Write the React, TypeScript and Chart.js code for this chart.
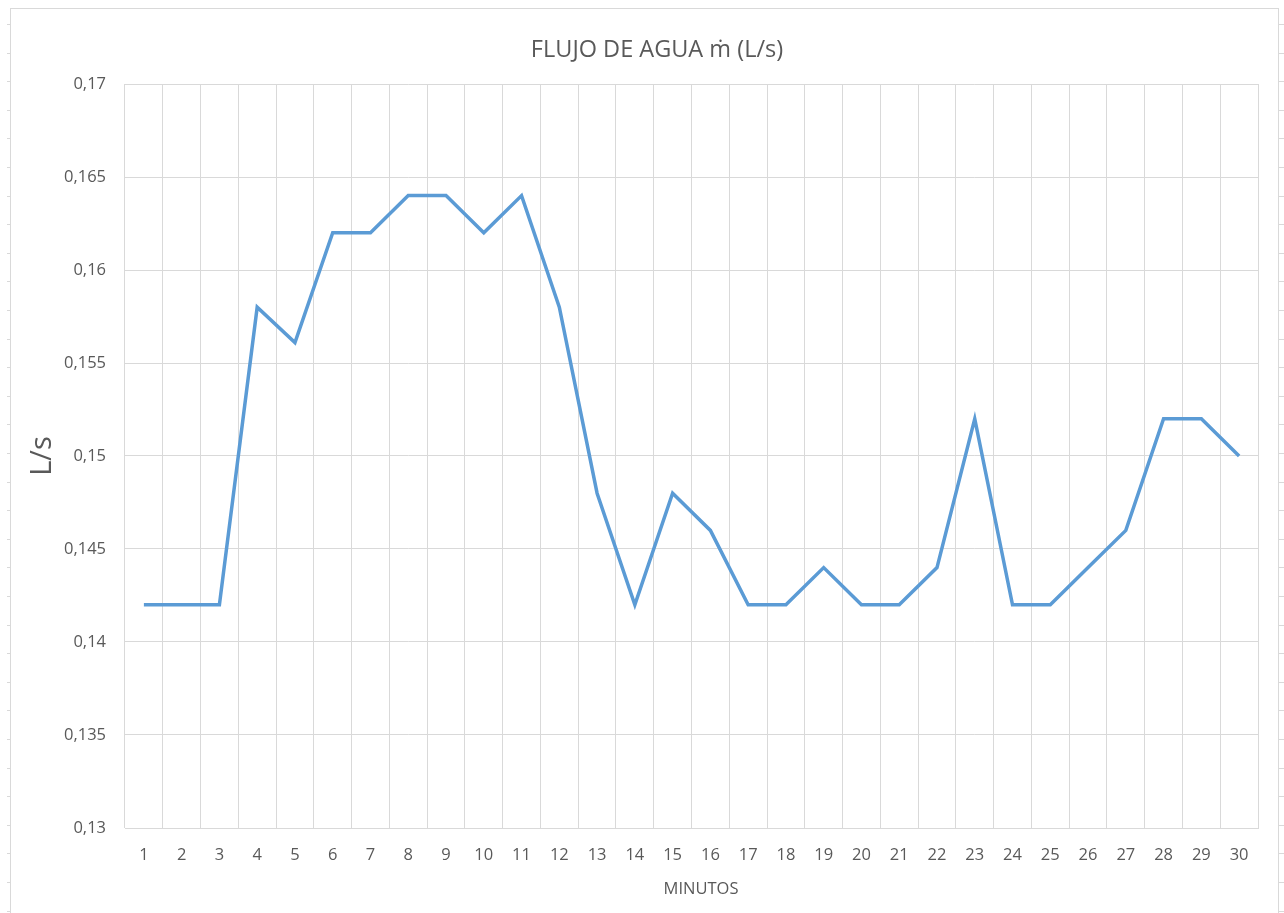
import React, { useEffect, useRef } from "react";
import { Chart, registerables } from "chart.js";

Chart.register(...registerables);

const categories = [
  "1", "2", "3", "4", "5", "6", "7", "8", "9", "10",
  "11", "12", "13", "14", "15", "16", "17", "18", "19", "20",
  "21", "22", "23", "24", "25", "26", "27", "28", "29", "30",
];

const flowValues = [
  0.142, 0.142, 0.142, 0.158, 0.1561, 0.162, 0.162, 0.164, 0.164, 0.162,
  0.164, 0.158, 0.148, 0.142, 0.148, 0.146, 0.142, 0.142, 0.144, 0.142,
  0.142, 0.144, 0.152, 0.142, 0.142, 0.144, 0.146, 0.152, 0.152, 0.15,
];

const yTickLabels = ["0,13", "0,135", "0,14", "0,145", "0,15", "0,155", "0,16", "0,165", "0,17"];

const chartTitle = "FLUJO DE AGUA ṁ (L/s)";
const xAxisTitle = "MINUTOS";

const FONT = "'Open Sans', Lato, sans-serif";
const TEXT = "#595959";
const GRID = "#d9d9d9";

const frame = {
  id: "frame",
  beforeDraw(chart: any) {
    const c = chart.ctx;
    c.save();
    c.fillStyle = "#ffffff";
    c.fillRect(0, 0, chart.width, chart.height);
    c.strokeStyle = "#d9d9d9";
    c.lineWidth = 1;
    c.strokeRect(10.5, 8.5, 1268, 905);
    c.beginPath();
    for (let y = 24; y < 913; y += 28.6) {
      const yy = Math.round(y) + 0.5;
      c.moveTo(7, yy);
      c.lineTo(10, yy);
      c.moveTo(1279, yy);
      c.lineTo(1284, yy);
    }
    c.stroke();
    c.restore();
  },
  afterDraw(chart: any) {
    const c = chart.ctx;
    c.save();
    c.fillStyle = TEXT;
    c.textAlign = "center";
    c.textBaseline = "middle";
    c.font = `23.5px ${FONT}`;
    c.fillText(chartTitle, 657, 50);
    c.font = `16.5px ${FONT}`;
    c.fillText(xAxisTitle, 701, 889);
    c.restore();
  },
};

export default function App() {
  const ref = useRef<HTMLCanvasElement>(null);
  useEffect(() => {
    if (!ref.current) return;
    const chart = new Chart(ref.current, {
      type: "line",
      data: {
        labels: categories,
        datasets: [
          {
            label: "Flujo",
            data: flowValues,
            borderColor: "#5b9bd5",
            backgroundColor: "#5b9bd5",
            borderWidth: 3.5,
            pointRadius: 0,
            tension: 0,
            fill: false,
          },
        ],
      },
      plugins: [frame],
      options: {
        animation: false,
        responsive: false,
        devicePixelRatio: 1,
        layout: { padding: { left: 0, right: 26, top: 84, bottom: 0 } },
        plugins: {
          legend: { display: false },
          tooltip: { enabled: false },
          title: { display: false },
        },
        scales: {
          x: {
            type: "category",
            offset: true,
            grid: { offset: true, color: GRID, lineWidth: 1, drawTicks: false },
            border: { color: GRID },
            ticks: {
              color: TEXT,
              font: { family: FONT, size: 16.5 },
              padding: 17,
              maxRotation: 0,
              autoSkip: false,
            },
            title: { display: false },
            afterFit: (scale: any) => {
              scale.height = 85;
            },
          },
          y: {
            min: 0.13,
            max: 0.17,
            grid: { color: GRID, lineWidth: 1, drawTicks: false },
            border: { display: false },
            ticks: {
              stepSize: 0.005,
              color: TEXT,
              font: { family: FONT, size: 16.5 },
              padding: 19,
              callback: (_v: any, i: number) => yTickLabels[i],
            },
            title: {
              display: true,
              text: "L/s",
              color: TEXT,
              font: { family: FONT, size: 29 },
              padding: { top: 25, bottom: 0 },
            },
            afterFit: (scale: any) => {
              scale.width = 125;
            },
          },
        },
      },
    } as any);
    return () => chart.destroy();
  }, []);
  return (
    <canvas
      ref={ref}
      width={1284}
      height={913}
      style={{ position: "absolute", left: 0, top: 0, width: 1284, height: 913, display: "block" }}
    />
  );
}
